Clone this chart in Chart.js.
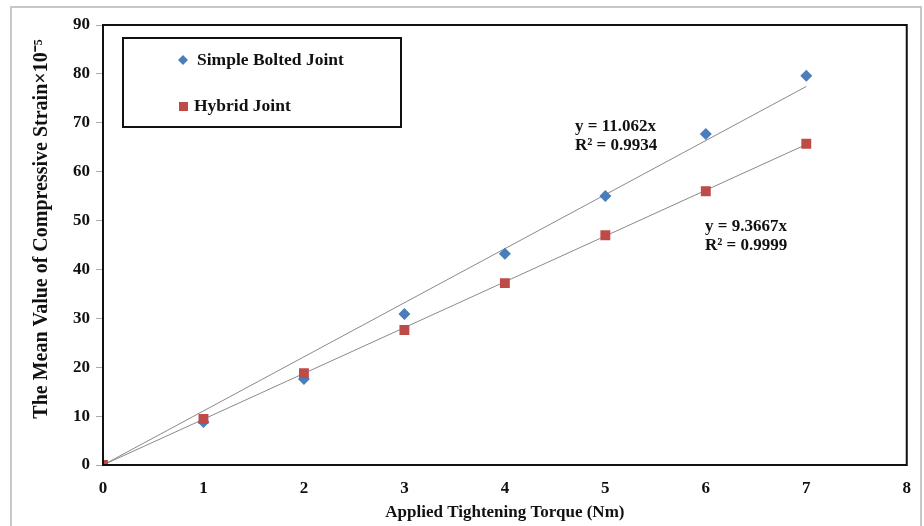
<!DOCTYPE html>
<html>
<head>
<meta charset="utf-8">
<script src="https://cdn.jsdelivr.net/npm/chart.js@4.4.1/dist/chart.umd.min.js"></script>
<style>
  html, body { margin: 0; padding: 0; background: #fff; }
  #wrap { width: 924px; height: 526px; }
</style>
</head>
<body>
<div id="wrap"><canvas id="strain-chart" width="924" height="526"></canvas></div>
<script>
// torque values (Nm)
const torque = [0, 1, 2, 3, 4, 5, 6, 7];
// mean compressive strain x10^-5
const simpleBolted = [0, 8.8, 17.6, 30.9, 43.2, 55.0, 67.7, 79.6];
const hybridJoint = [0, 9.4, 18.8, 27.6, 37.2, 47.0, 56.0, 65.7];
// linear trendlines through origin (y = 11.062x, y = 9.3667x), endpoints at x=0 and x=7
const trendX = [0, 7];
const trendSimple = [0, 77.43];
const trendHybrid = [0, 65.57];
const xTicks = [0, 1, 2, 3, 4, 5, 6, 7, 8];
const yTicks = [0, 10, 20, 30, 40, 50, 60, 70, 80, 90];
const seriesNames = ["Simple Bolted Joint", "Hybrid Joint"];
const yTitle = "The Mean Value of Compressive Strain×10⁻⁵";
const equations = [
  ["y = 11.062x", "R² = 0.9934"],
  ["y = 9.3667x", "R² = 0.9999"]
];

const serif = "'Liberation Serif', 'Times New Roman', serif";
const blue = "#4a7ebb";
const red = "#be4b48";

function pts(xs, ys) {
  return xs.map(function (x, i) { return { x: x, y: ys[i] }; });
}

// frame, plot border, legend box, y title and equation labels
const decorations = {
  id: "decorations",
  beforeDraw: function (chart) {
    const c = chart.ctx;
    c.save();
    c.fillStyle = "#fff";
    c.fillRect(0, 0, chart.width, chart.height);
    c.strokeStyle = "#c8c8c8";
    c.lineWidth = 2;
    c.beginPath();
    c.moveTo(11, 526);
    c.lineTo(11, 7);
    c.lineTo(921, 7);
    c.lineTo(921, 526);
    c.stroke();

    // y axis title, sits a bit above the plot's middle like the original
    c.translate(42, 229);
    c.rotate(-Math.PI / 2);
    c.fillStyle = "#111";
    c.font = "bold 20px " + serif;
    c.textAlign = "center";
    c.textBaseline = "middle";
    c.fillText(yTitle, 0, 0);
    c.restore();
  },
  afterDatasetsDraw: function (chart) {
    const c = chart.ctx;
    const a = chart.chartArea;
    c.save();
    c.strokeStyle = "#111";
    c.lineWidth = 2;
    c.strokeRect(a.left, a.top, a.right - a.left, a.bottom - a.top);

    // legend
    c.fillStyle = "#fff";
    c.fillRect(123, 38, 278, 89);
    c.strokeRect(123, 38, 278, 89);
    c.font = "bold 17.5px " + serif;
    c.textBaseline = "middle";
    c.fillStyle = "#111";
    c.fillText(seriesNames[0], 197, 60);
    c.fillText(seriesNames[1], 194, 106);
    c.fillStyle = blue;
    c.beginPath();
    c.moveTo(183, 55); c.lineTo(188, 60); c.lineTo(183, 65); c.lineTo(178, 60);
    c.closePath();
    c.fill();
    c.fillStyle = red;
    c.fillRect(179, 102, 9, 9);

    // trendline equations
    c.fillStyle = "#111";
    c.font = "bold 17px " + serif;
    c.textBaseline = "middle";
    c.fillText(equations[0][0], 575, 127);
    c.fillText(equations[0][1], 575, 146);
    c.fillText(equations[1][0], 705, 227);
    c.fillText(equations[1][1], 705, 246);
    c.restore();
  }
};

new Chart(document.getElementById("strain-chart").getContext("2d"), {
  type: "scatter",
  data: {
    datasets: [
      {
        label: "trend simple",
        data: pts(trendX, trendSimple),
        showLine: true,
        borderColor: "#8a8a8a",
        borderWidth: 1,
        pointRadius: 0,
        order: 3
      },
      {
        label: "trend hybrid",
        data: pts(trendX, trendHybrid),
        showLine: true,
        borderColor: "#8a8a8a",
        borderWidth: 1,
        pointRadius: 0,
        order: 4
      },
      {
        label: seriesNames[0],
        data: pts(torque, simpleBolted),
        pointStyle: "rectRot",
        pointRadius: 6,
        backgroundColor: blue,
        borderColor: blue,
        borderWidth: 0,
        order: 2
      },
      {
        label: seriesNames[1],
        data: pts(torque, hybridJoint),
        pointStyle: "rect",
        pointRadius: 7,
        backgroundColor: red,
        borderColor: red,
        borderWidth: 0,
        order: 1
      }
    ]
  },
  options: {
    responsive: false,
    animation: false,
    layout: { padding: { left: 0, top: 25, right: 10, bottom: 3 } },
    plugins: {
      legend: { display: false },
      tooltip: { enabled: false }
    },
    scales: {
      x: {
        type: "linear",
        min: 0,
        max: 8,
        afterBuildTicks: function (s) { s.ticks = xTicks.map(function (v) { return { value: v }; }); },
        afterFit: function (s) { s.height = 58; },
        grid: { display: false, drawTicks: false },
        border: { display: false },
        ticks: {
          color: "#111",
          padding: 13,
          maxRotation: 0,
          font: { family: serif, size: 17, weight: "bold" }
        },
        title: {
          display: true,
          text: "Applied Tightening Torque (Nm)",
          color: "#111",
          padding: { top: 0, bottom: 0 },
          font: { family: serif, size: 17, weight: "bold" }
        }
      },
      y: {
        type: "linear",
        min: 0,
        max: 90,
        afterBuildTicks: function (s) { s.ticks = yTicks.map(function (v) { return { value: v }; }); },
        afterFit: function (s) { s.width = 103; },
        grid: { display: true, drawOnChartArea: false, drawTicks: true, tickLength: 7, color: "#aaa" },
        border: { display: false },
        ticks: {
          color: "#111",
          padding: 6,
          font: { family: serif, size: 17, weight: "bold" }
        },
        title: { display: false }
      }
    }
  },
  plugins: [decorations]
});
</script>
</body>
</html>
